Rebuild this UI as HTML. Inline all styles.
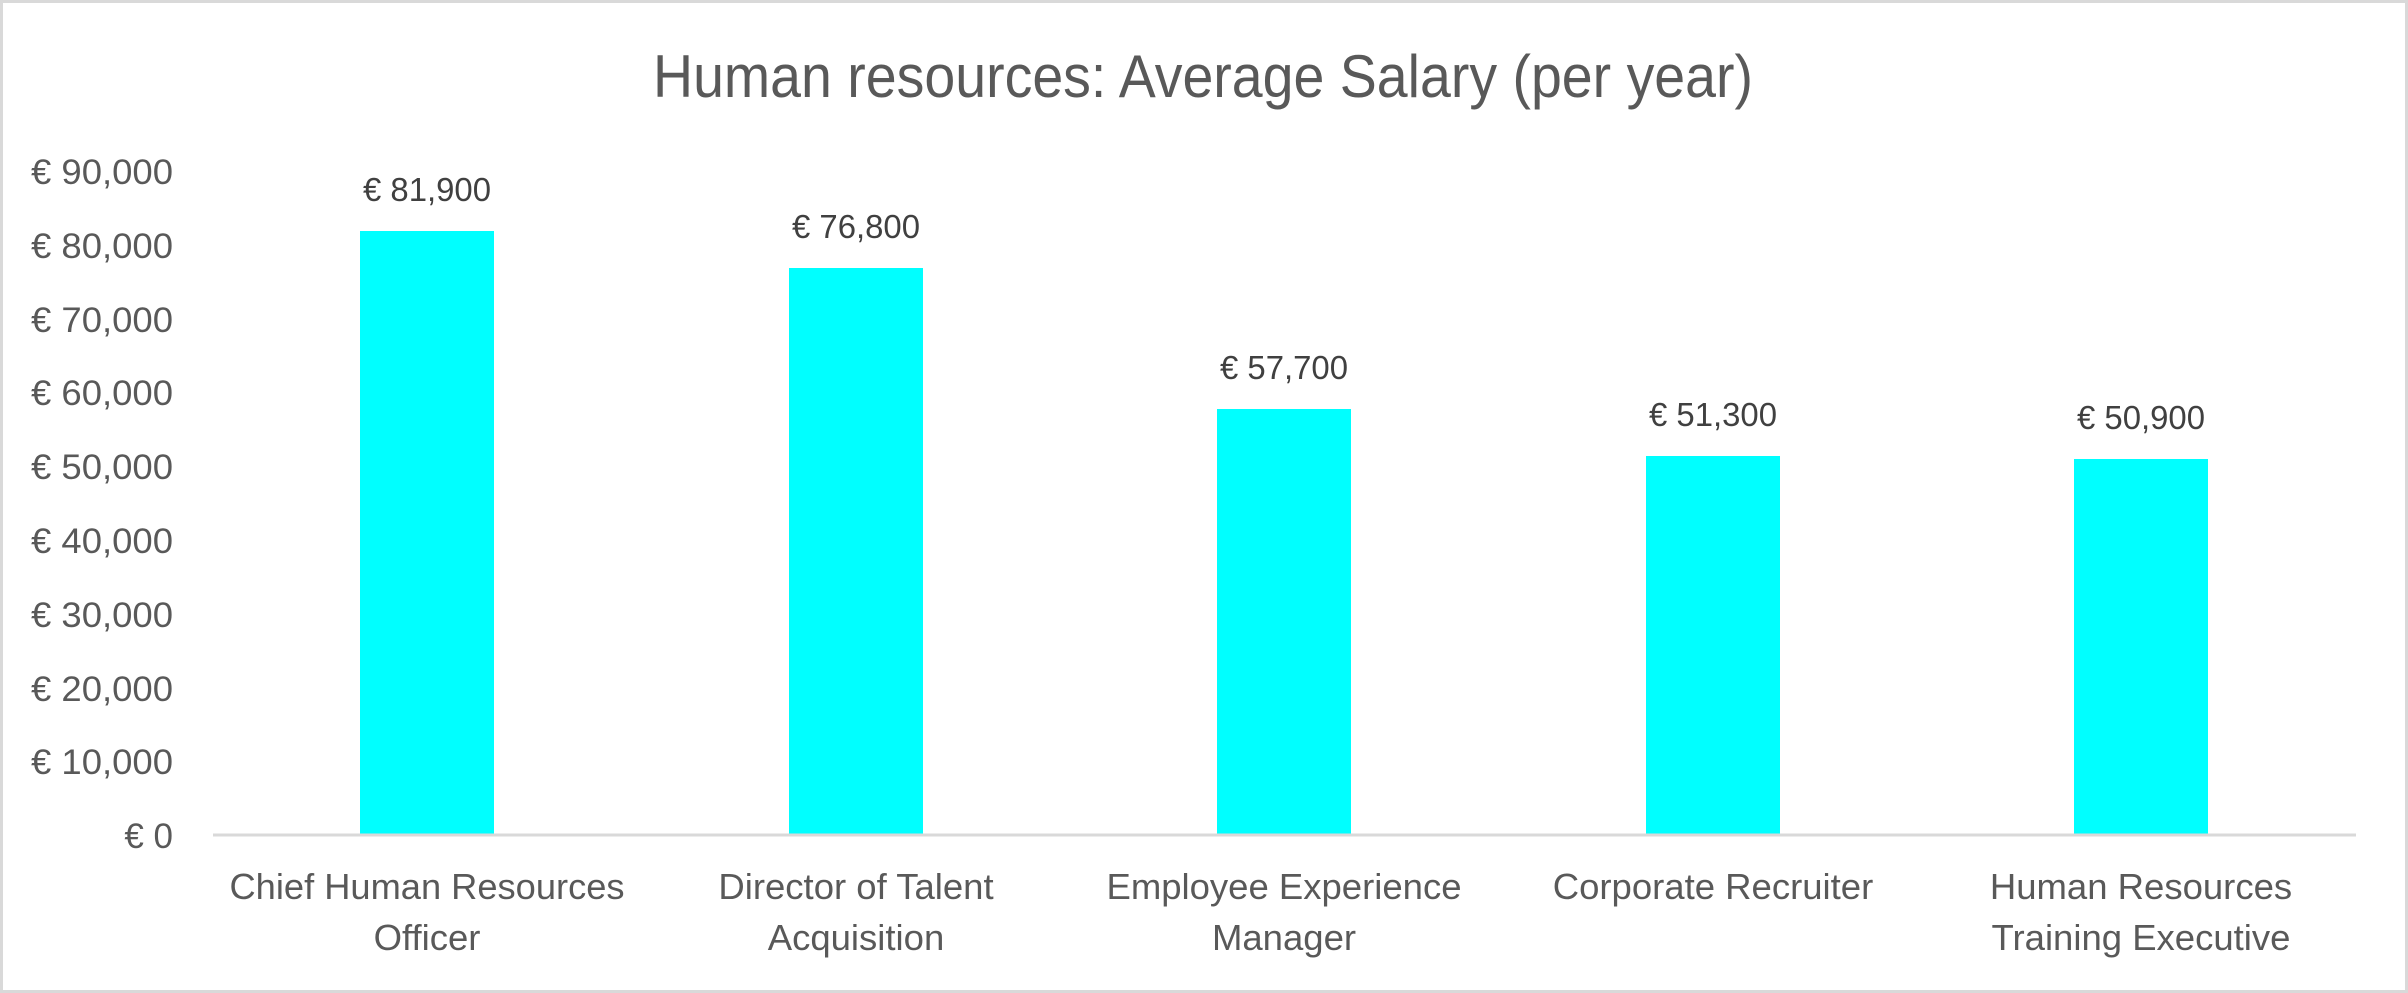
<!DOCTYPE html>
<html><head><meta charset="utf-8"><style>html,body{margin:0;padding:0;background:#fff}svg{display:block}</style></head>
<body>
<svg width="2408" height="993" viewBox="0 0 2408 993" xmlns="http://www.w3.org/2000/svg" font-family="'Liberation Sans', sans-serif" fill="#595959">
<rect x="1.5" y="1.5" width="2405" height="990" fill="#fff" stroke="#d9d9d9" stroke-width="3"/>
<text x="1203" y="97" font-size="60" text-anchor="middle" textLength="1100" lengthAdjust="spacingAndGlyphs">Human resources: Average Salary (per year)</text>
<g font-size="35" text-anchor="end">
<text x="173" y="184" textLength="142" lengthAdjust="spacingAndGlyphs">€ 90,000</text>
<text x="173" y="258" textLength="142" lengthAdjust="spacingAndGlyphs">€ 80,000</text>
<text x="173" y="332" textLength="142" lengthAdjust="spacingAndGlyphs">€ 70,000</text>
<text x="173" y="405" textLength="142" lengthAdjust="spacingAndGlyphs">€ 60,000</text>
<text x="173" y="479" textLength="142" lengthAdjust="spacingAndGlyphs">€ 50,000</text>
<text x="173" y="553" textLength="142" lengthAdjust="spacingAndGlyphs">€ 40,000</text>
<text x="173" y="627" textLength="142" lengthAdjust="spacingAndGlyphs">€ 30,000</text>
<text x="173" y="701" textLength="142" lengthAdjust="spacingAndGlyphs">€ 20,000</text>
<text x="173" y="774" textLength="142" lengthAdjust="spacingAndGlyphs">€ 10,000</text>
<text x="173" y="848">€ 0</text>
</g>
<g fill="#00ffff">
<rect x="360" y="231" width="134" height="604"/>
<rect x="789" y="268" width="134" height="567"/>
<rect x="1217" y="409" width="134" height="426"/>
<rect x="1646" y="456" width="134" height="379"/>
<rect x="2074" y="459" width="134" height="376"/>
</g>
<line x1="213" y1="835" x2="2356" y2="835" stroke="#d9d9d9" stroke-width="3"/>
<g font-size="33" text-anchor="middle" fill="#404040">
<text x="427" y="201" textLength="128" lengthAdjust="spacingAndGlyphs">€ 81,900</text>
<text x="856" y="238" textLength="128" lengthAdjust="spacingAndGlyphs">€ 76,800</text>
<text x="1284" y="379" textLength="128" lengthAdjust="spacingAndGlyphs">€ 57,700</text>
<text x="1713" y="426" textLength="128" lengthAdjust="spacingAndGlyphs">€ 51,300</text>
<text x="2141" y="429" textLength="128" lengthAdjust="spacingAndGlyphs">€ 50,900</text>
</g>
<g font-size="36.5" text-anchor="middle">
<text x="427" y="899" textLength="395" lengthAdjust="spacingAndGlyphs">Chief Human Resources</text>
<text x="427" y="950">Officer</text>
<text x="856" y="899">Director of Talent</text>
<text x="856" y="950">Acquisition</text>
<text x="1284" y="899">Employee Experience</text>
<text x="1284" y="950">Manager</text>
<text x="1713" y="899">Corporate Recruiter</text>
<text x="2141" y="899">Human Resources</text>
<text x="2141" y="950">Training Executive</text>
</g>
</svg>
</body></html>
